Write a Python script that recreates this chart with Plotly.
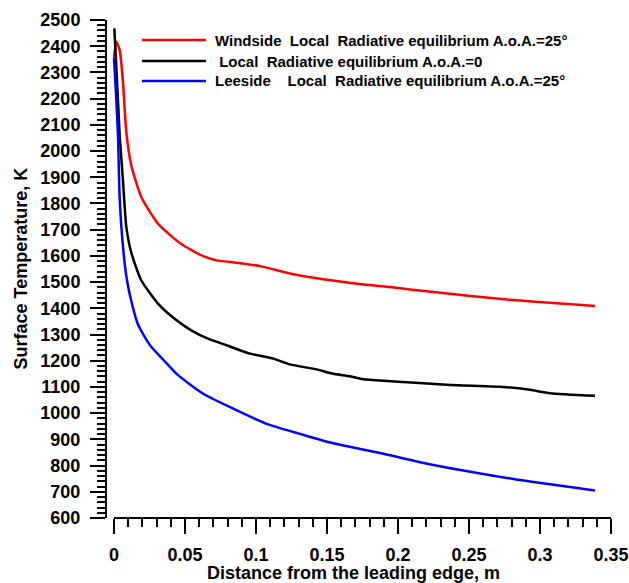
import plotly.graph_objects as go

# ---- data ----
x_wind = [0.0, 0.0016, 0.004, 0.0063, 0.0087, 0.0122, 0.0192, 0.031, 0.0474, 0.0629,
          0.0723, 0.0864, 0.1028, 0.1263, 0.1474, 0.1709, 0.1944, 0.2249, 0.2765, 0.3387]
t_wind = [2354, 2417, 2385, 2264, 2070, 1945, 1825, 1723, 1645, 1599,
          1583, 1574, 1561, 1530, 1511, 1494, 1481, 1462, 1434, 1409]

x_zero = [0.0002, 0.0016, 0.004, 0.0063, 0.0087, 0.0122, 0.0192, 0.031, 0.0427, 0.0544,
          0.0662, 0.0793, 0.0958, 0.1122, 0.1239, 0.1427, 0.1544, 0.1662, 0.1756, 0.1944,
          0.2343, 0.2765, 0.293, 0.307, 0.3387]
t_zero = [2468, 2328, 2061, 1889, 1710, 1612, 1507, 1418, 1360, 1316,
          1284, 1259, 1227, 1208, 1186, 1167, 1150, 1141, 1129, 1122,
          1108, 1099, 1089, 1076, 1066]

x_lee = [0.0, 0.0016, 0.0028, 0.004, 0.0065, 0.0092, 0.0125, 0.0169, 0.0258, 0.0357,
         0.0441, 0.0629, 0.084, 0.1075, 0.131, 0.1545, 0.1873, 0.2155, 0.246, 0.2812, 0.3387]
t_lee = [2354, 2200, 2061, 1820, 1625, 1505, 1420, 1338, 1256, 1198,
         1150, 1074, 1017, 959, 921, 885, 848, 813, 781, 749, 705]

series_names = [
    "Windside\u00a0\u00a0Local\u00a0\u00a0Radiative equilibrium A.o.A.=25°",
    "\u00a0Local\u00a0\u00a0Radiative equilibrium A.o.A.=0",
    "Leeside\u00a0\u00a0\u00a0\u00a0Local\u00a0\u00a0Radiative equilibrium A.o.A.=25°",
]
series_colors = ["#ff0000", "#000000", "#0000ff"]

x_ticks = [0, 0.05, 0.1, 0.15, 0.2, 0.25, 0.3, 0.35]
x_tick_labels = ["0", "0.05", "0.1", "0.15", "0.2", "0.25", "0.3", "0.35"]
y_ticks = list(range(600, 2501, 100))
y_tick_labels = [str(v) for v in y_ticks]

x_title = "Distance from the leading edge, m"
y_title = "Surface Temperature, K"

# ---- layout geometry ----
W, H = 629, 583
ML, MR, MT, MB = 107, 18, 20, 65
PW, PH = W - ML - MR, H - MT - MB


def px(xp):
    return (xp - ML) / PW


def py(yp):
    return (H - MB - yp) / PH


def b(s):
    return "<b>" + s + "</b>"


FONT = "Liberation Sans, Arial, sans-serif"

fig = go.Figure()
for xs, ts, name, col in zip([x_wind, x_zero, x_lee], [t_wind, t_zero, t_lee],
                             series_names, series_colors):
    fig.add_trace(go.Scatter(x=xs, y=ts, mode="lines", name=name,
                             line=dict(color=col, width=2.5, shape="spline", smoothing=0.6),
                             showlegend=False))

fig.update_layout(
    width=W, height=H,
    margin=dict(l=ML, r=MR, t=MT, b=MB, pad=0, autoexpand=False),
    paper_bgcolor="white", plot_bgcolor="white",
    font=dict(family=FONT, color="black", size=17),
    xaxis=dict(range=[-7 / 1420, 0.35], automargin=False,
               showgrid=False, zeroline=False, showline=False,
               tickmode="array", tickvals=x_ticks, ticktext=[b(t) for t in x_tick_labels],
               ticks="outside", ticklen=15, tickwidth=2, tickcolor="black",
               ticklabelstandoff=5,
               minor=dict(dtick=0.01, ticks="outside", ticklen=8, tickwidth=2,
                          tickcolor="black", showgrid=False),
               tickfont=dict(size=18, family=FONT)),
    yaxis=dict(range=[600, 2500], automargin=False,
               showgrid=False, zeroline=False, showline=True,
               linecolor="black", linewidth=2,
               tickmode="array", tickvals=y_ticks, ticktext=[b(t) for t in y_tick_labels],
               ticks="outside", ticklen=15, tickwidth=2, tickcolor="black",
               ticklabelstandoff=6,
               minor=dict(dtick=20, ticks="outside", ticklen=8, tickwidth=2,
                          tickcolor="black", showgrid=False),
               tickfont=dict(size=18, family=FONT)),
)

# x-axis line from 0 to 0.35 only
fig.add_shape(type="line", xref="x", yref="paper", x0=0, x1=0.35, y0=0, y1=0,
              line=dict(color="black", width=2))

# axis titles
fig.add_annotation(text=b(x_title), xref="paper", yref="paper", x=px(353.5), y=py(573),
                   xanchor="center", yanchor="middle", showarrow=False,
                   font=dict(size=18, family=FONT))
fig.add_annotation(text=b(y_title), xref="paper", yref="paper", x=px(20), y=py(268.5),
                   xanchor="center", yanchor="middle", showarrow=False, textangle=-90,
                   font=dict(size=18, family=FONT))

# custom legend
leg_y = [40, 61, 81]
for name, col, yy in zip(series_names, series_colors, leg_y):
    fig.add_shape(type="line", xref="paper", yref="paper", x0=px(142), x1=px(206),
                  y0=py(yy), y1=py(yy), line=dict(color=col, width=2.5))
    fig.add_annotation(text=b(name), xref="paper", yref="paper", x=px(213), y=py(yy),
                       xanchor="left", yanchor="middle", showarrow=False,
                       font=dict(size=15, family=FONT))

fig.write_html("out.html")
